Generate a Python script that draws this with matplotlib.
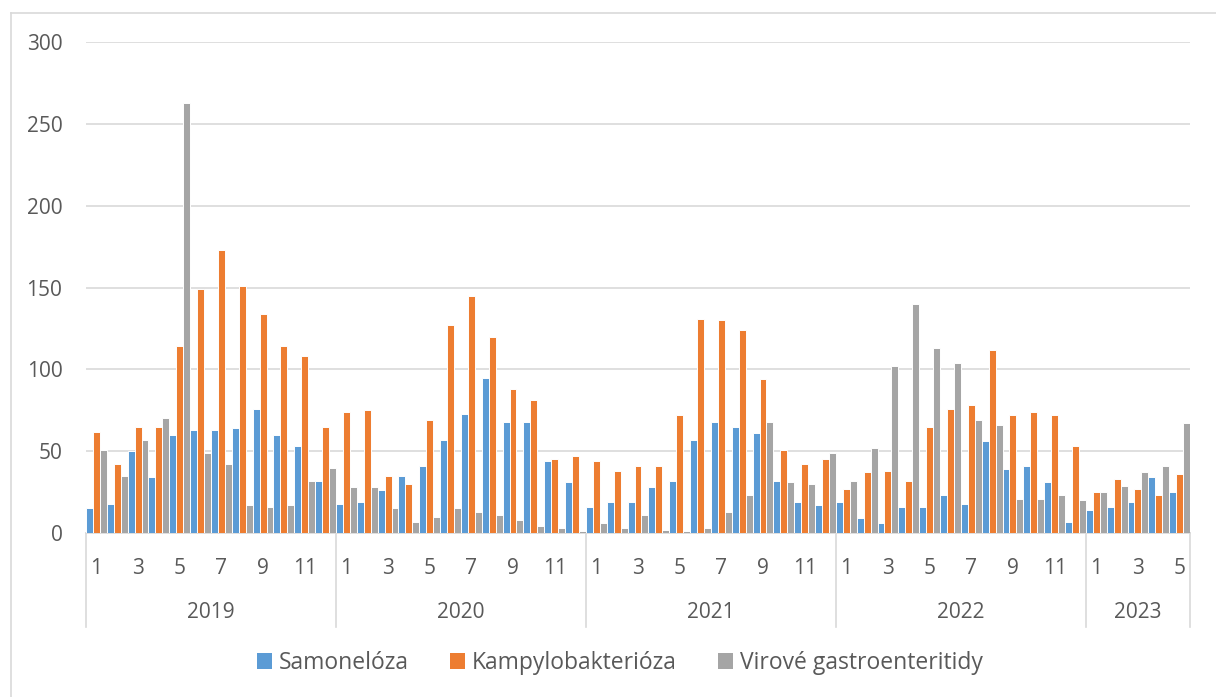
import matplotlib
matplotlib.use("Agg")
import matplotlib.pyplot as plt
from matplotlib.lines import Line2D
from matplotlib.patches import Patch
import numpy as np

# monthly counts, 2019-01 .. 2023-05
years = ["2019", "2020", "2021", "2022", "2023"]
months_per_year = [12, 12, 12, 12, 5]

salmonella = [15, 18, 50, 34, 60, 63, 63, 64, 76, 60, 53, 32,
              18, 19, 26, 35, 41, 57, 73, 95, 68, 68, 44, 31,
              16, 19, 19, 28, 32, 57, 68, 65, 61, 32, 19, 17,
              19, 9, 6, 16, 16, 23, 18, 56, 39, 41, 31, 7,
              14, 16, 19, 34, 25]
campylo = [62, 42, 65, 65, 114, 149, 173, 151, 134, 114, 108, 65,
           74, 75, 35, 30, 69, 127, 145, 120, 88, 81, 45, 47,
           44, 38, 41, 41, 72, 131, 130, 124, 94, 51, 42, 45,
           27, 37, 38, 32, 65, 76, 78, 112, 72, 74, 72, 53,
           25, 33, 27, 23, 36]
viral = [51, 35, 57, 70, 263, 49, 42, 17, 16, 17, 32, 40,
         28, 28, 15, 7, 10, 15, 13, 11, 8, 4, 3, 1,
         6, 3, 11, 2, 1, 3, 13, 23, 68, 31, 30, 49,
         32, 52, 102, 140, 113, 104, 69, 66, 21, 21, 23, 20,
         25, 29, 37, 41, 67]

series_names = ["Samonelóza", "Kampylobakterióza", "Virové gastroenteritidy"]
colors = ["#5B9BD5", "#ED7D31", "#A5A5A5"]
txt = "#595959"
grid = "#D9D9D9"

plt.rcParams["font.family"] = ["Open Sans", "DejaVu Sans"]

W, H = 1216, 697
fig = plt.figure(figsize=(W / 100, H / 100), dpi=100)
ax = fig.add_axes([86 / W, 1 - 533 / H, 1104 / W, 491 / H])

n = len(salmonella)
x = np.arange(n)
bw = 1 / 3
for k, vals in enumerate([salmonella, campylo, viral]):
    ax.bar(x + bw * (k + 0.5), vals, width=bw, color=colors[k],
           edgecolor="white", linewidth=0.7, zorder=3)

ax.set_xlim(0, n)
ax.set_ylim(0, 300)
ax.set_yticks(range(0, 301, 50))
ax.yaxis.grid(True, color=grid, linewidth=1.2, zorder=0)
ax.tick_params(axis="y", length=0, pad=17, labelsize=15, labelcolor=txt)
for s in ["left", "right", "top"]:
    ax.spines[s].set_visible(False)
ax.spines["bottom"].set_color(grid)
ax.spines["bottom"].set_linewidth(1.2)

# month labels (odd months only) and year groups
month_pos = []
month_lab = []
start = 0
bounds = [0]
for y, m in zip(years, months_per_year):
    for j in range(m):
        if j % 2 == 0:
            month_pos.append(start + j + 0.5)
            month_lab.append(str(j + 1))
    start += m
    bounds.append(start)
ax.set_xticks(month_pos)
ax.set_xticklabels(month_lab)
ax.tick_params(axis="x", length=0, pad=18, labelsize=15, labelcolor=txt)

sep_bottom = -94 / 491
for b in bounds:
    ax.add_line(Line2D([b, b], [0, sep_bottom], transform=ax.get_xaxis_transform(),
                       color=grid, linewidth=1.2, clip_on=False))
for i, y in enumerate(years):
    ax.text((bounds[i] + bounds[i + 1]) / 2, -79 / 491, y, transform=ax.get_xaxis_transform(),
            ha="center", va="center", fontsize=15, color=txt)

handles = [Patch(facecolor=c, edgecolor="none") for c in colors]
fig.legend(handles, series_names, loc="center", bbox_to_anchor=(620 / W, 1 - 663 / H),
           ncol=3, frameon=False, fontsize=16.5, labelcolor=txt,
           handlelength=0.65, handleheight=0.65, handletextpad=0.3, columnspacing=1.8)

# chart area border
fig.add_artist(Line2D([10.5 / W, 10.5 / W], [0, 1 - 13 / H], color=grid, linewidth=1.2))
fig.add_artist(Line2D([10.5 / W, 1], [1 - 13 / H, 1 - 13 / H], color=grid, linewidth=1.2))

fig.savefig("out.png", dpi=100, facecolor="white")
